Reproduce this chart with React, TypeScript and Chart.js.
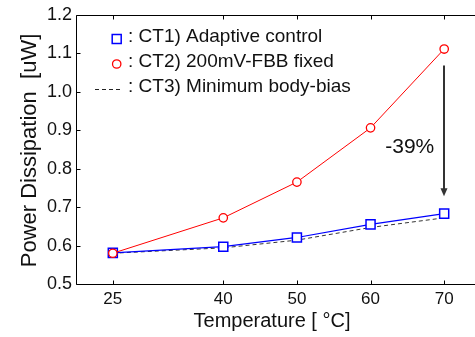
import React, { useEffect, useRef } from "react";
import { Chart, registerables } from "chart.js";

Chart.register(...registerables);

// ---- data ----
const temperatures = [25, 40, 50, 60, 70];
const ct1Adaptive = [0.581, 0.597, 0.621, 0.655, 0.683];
const ct2Fbb = [0.58, 0.672, 0.765, 0.906, 1.111];
const ct3MinBias = [0.58, 0.594, 0.614, 0.647, 0.672];
const xTickValues = [25, 40, 50, 60, 70];
const yTickValues = [0.5, 0.6, 0.7, 0.8, 0.9, 1.0, 1.1, 1.2];
const legendLabels = [
  ": CT1) Adaptive control",
  ": CT2) 200mV-FBB fixed",
  ": CT3) Minimum body-bias",
];
const xTitle = "Temperature [ \u00B0C]";
const yTitle = "Power Dissipation  [uW]";
const reductionLabel = "-39%";
const arrowX = 70;
const arrowFrom = 1.068;
const arrowTo = 0.728;
const labelAnchorX = 68.65;
const labelAnchorY = 0.855;

const FONT = "'Liberation Sans', Arial, Helvetica, sans-serif";

const decorPlugin = {
  id: "decor",
  afterDraw(chart: any) {
    const { ctx, chartArea } = chart;
    const xs = chart.scales.x;
    const ys = chart.scales.y;
    const L = Math.round(chartArea.left) + 0.5;
    const R = Math.round(chartArea.right) + 0.5;
    const T = Math.round(chartArea.top) + 0.5;
    const B = Math.round(chartArea.bottom) + 0.5;
    ctx.save();
    // box
    ctx.strokeStyle = "#000";
    ctx.lineWidth = 1;
    ctx.beginPath();
    ctx.moveTo(R, T);
    ctx.lineTo(L, T);
    ctx.lineTo(L, B);
    ctx.lineTo(R, B);
    ctx.stroke();
    // inward ticks
    ctx.beginPath();
    xTickValues.forEach((v) => {
      const px = Math.round(xs.getPixelForValue(v)) + 0.5;
      ctx.moveTo(px, B);
      ctx.lineTo(px, B - 4);
      ctx.moveTo(px, T);
      ctx.lineTo(px, T + 4);
    });
    yTickValues.forEach((v) => {
      const py = Math.round(ys.getPixelForValue(v)) + 0.5;
      ctx.moveTo(L, py);
      ctx.lineTo(L + 4, py);
    });
    ctx.stroke();

    // arrow
    const ax = Math.round(xs.getPixelForValue(arrowX));
    const ay1 = ys.getPixelForValue(arrowFrom);
    const ay2 = ys.getPixelForValue(arrowTo);
    ctx.strokeStyle = "#333";
    ctx.fillStyle = "#333";
    ctx.lineWidth = 2;
    ctx.beginPath();
    ctx.moveTo(ax, ay1);
    ctx.lineTo(ax, ay2 - 7);
    ctx.stroke();
    ctx.beginPath();
    ctx.moveTo(ax - 3.5, ay2 - 8);
    ctx.lineTo(ax + 3.5, ay2 - 8);
    ctx.lineTo(ax, ay2);
    ctx.closePath();
    ctx.fill();

    // reduction label
    ctx.fillStyle = "#111";
    ctx.font = `21px ${FONT}`;
    ctx.textAlign = "right";
    ctx.textBaseline = "middle";
    ctx.fillText(reductionLabel, xs.getPixelForValue(labelAnchorX), ys.getPixelForValue(labelAnchorY));

    // legend
    const lx = 116.7;
    const rows = [39, 64, 88.5];
    ctx.lineWidth = 1.5;
    ctx.strokeStyle = "#0000ff";
    ctx.fillStyle = "#fff";
    ctx.fillRect(lx - 4.5, rows[0] - 4.5, 9, 9);
    ctx.strokeRect(lx - 4.5, rows[0] - 4.5, 9, 9);
    ctx.strokeStyle = "#ff0000";
    ctx.lineWidth = 1.3;
    ctx.beginPath();
    ctx.arc(lx, rows[1], 4.2, 0, Math.PI * 2);
    ctx.fill();
    ctx.stroke();
    ctx.strokeStyle = "#222";
    ctx.lineWidth = 1;
    ctx.setLineDash([4, 3]);
    ctx.beginPath();
    ctx.moveTo(95, Math.round(rows[2]) + 0.5);
    ctx.lineTo(123, Math.round(rows[2]) + 0.5);
    ctx.stroke();
    ctx.setLineDash([]);
    ctx.fillStyle = "#111";
    ctx.font = `19px ${FONT}`;
    ctx.textAlign = "left";
    ctx.textBaseline = "middle";
    legendLabels.forEach((t, i) => {
      ctx.fillText(t, 128, rows[i] - 2);
    });

    // axis titles
    ctx.font = `20px ${FONT}`;
    ctx.textAlign = "center";
    ctx.textBaseline = "alphabetic";
    ctx.fillText(xTitle, 272, 327);
    ctx.save();
    ctx.translate(36, 150.5);
    ctx.rotate(-Math.PI / 2);
    ctx.font = `22px ${FONT}`;
    ctx.fillText(yTitle, 0, 0);
    ctx.restore();

    ctx.restore();
  },
};

export default function App() {
  const ref = useRef<HTMLCanvasElement>(null);
  useEffect(() => {
    if (!ref.current) return;
    Chart.defaults.font.family = FONT;
    Chart.defaults.color = "#111";
    const chart = new Chart(ref.current, {
      type: "line",
      data: {
        datasets: [
          {
            label: "CT2) 200mV-FBB fixed",
            data: temperatures.map((t, i) => ({ x: t, y: ct2Fbb[i] })),
            borderColor: "#ff0000",
            borderWidth: 1,
            pointStyle: "circle",
            pointRadius: 4.2,
            pointBorderWidth: 1.3,
            pointBackgroundColor: "#ffffff",
            pointBorderColor: "#ff0000",
            tension: 0,
          },
          {
            label: "CT1) Adaptive control",
            data: temperatures.map((t, i) => ({ x: t, y: ct1Adaptive[i] })),
            borderColor: "#0000ff",
            borderWidth: 1.2,
            pointStyle: "rect",
            pointRadius: 6.4,
            pointBorderWidth: 1.5,
            pointBackgroundColor: "#ffffff",
            pointBorderColor: "#0000ff",
            tension: 0,
          },
          {
            label: "CT3) Minimum body-bias",
            data: temperatures.map((t, i) => ({ x: t, y: ct3MinBias[i] })),
            borderColor: "#333333",
            borderWidth: 1,
            borderDash: [4, 3],
            pointRadius: 0,
            tension: 0,
          },
        ],
      },
      options: {
        animation: false,
        responsive: false,
        devicePixelRatio: 1,
        layout: { padding: { top: 14, right: 9, left: 0, bottom: 0 } },
        plugins: { legend: { display: false }, tooltip: { enabled: false } },
        scales: {
          x: {
            type: "linear",
            min: 20,
            max: 75,
            grid: { display: false, drawTicks: false },
            border: { display: false },
            afterBuildTicks: (s: any) => {
              s.ticks = xTickValues.map((v) => ({ value: v }));
            },
            afterFit: (s: any) => {
              s.height = 53;
            },
            ticks: {
              font: { size: 17 },
              color: "#111",
              padding: 5,
              maxRotation: 0,
              autoSkip: false,
              callback: (v: any) => String(v),
            },
          },
          y: {
            type: "linear",
            min: 0.5,
            max: 1.2,
            grid: { display: false, drawTicks: false },
            border: { display: false },
            afterBuildTicks: (s: any) => {
              s.ticks = yTickValues.map((v) => ({ value: v }));
            },
            afterFit: (s: any) => {
              s.width = 76;
            },
            ticks: {
              font: { size: 18 },
              color: "#111",
              padding: 4,
              autoSkip: false,
              callback: (v: any) => Number(v).toFixed(1),
            },
          },
        },
      },
      plugins: [decorPlugin],
    } as any);
    return () => chart.destroy();
  }, []);
  return (
    <div
      style={{
        position: "fixed",
        left: 0,
        top: 0,
        width: 475,
        height: 337,
        overflow: "hidden",
        background: "#fff",
      }}
    >
      <canvas ref={ref} width={490} height={337} style={{ display: "block" }} />
    </div>
  );
}
